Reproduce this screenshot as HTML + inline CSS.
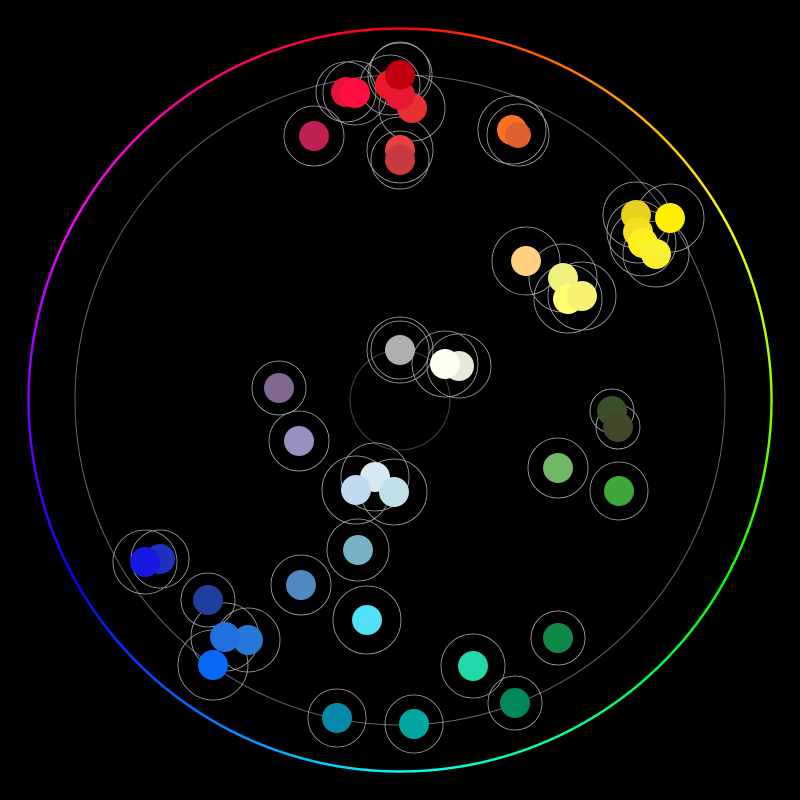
<!DOCTYPE html>
<html><head><style>
html,body{margin:0;padding:0;background:#000;width:800px;height:800px;overflow:hidden}
#ring{position:absolute;left:27px;top:27px;width:746px;height:746px;border-radius:50%;
background:conic-gradient(from 0deg,#f00,#ff0 60deg,#0f0 120deg,#0ff 180deg,#00f 240deg,#f0f 300deg,#f00 360deg);
-webkit-mask:radial-gradient(circle,transparent 370px,#000 370.5px,#000 372.5px,transparent 373px);
mask:radial-gradient(circle,transparent 370px,#000 370.5px,#000 372.5px,transparent 373px)}
svg{position:absolute;left:0;top:0}
</style></head><body>
<div id="ring"></div>
<svg width="800" height="800" viewBox="0 0 800 800">
<g fill="none" stroke="#666" stroke-width="1">
<circle cx="400" cy="400" r="325"/>
<circle cx="400" cy="400" r="50" stroke="#444"/>
</g>
<g fill="none" stroke="#aaa" stroke-width="0.8">
<circle cx="346" cy="92" r="30"/><circle cx="355" cy="93" r="32"/>
<circle cx="390" cy="85" r="30"/><circle cx="400" cy="75" r="32"/><circle cx="400" cy="72" r="30"/>
<circle cx="412" cy="108" r="33"/><circle cx="314" cy="136" r="30"/>
<circle cx="400" cy="150" r="33"/><circle cx="400" cy="160" r="29"/>
<circle cx="512" cy="130" r="34"/><circle cx="518" cy="135" r="31"/>
<circle cx="636" cy="215" r="33"/><circle cx="670" cy="218" r="34"/><circle cx="638" cy="232" r="31"/>
<circle cx="643" cy="243" r="33"/><circle cx="656" cy="254" r="33"/>
<circle cx="526" cy="261" r="34"/><circle cx="563" cy="278" r="34"/><circle cx="568" cy="299" r="34"/><circle cx="582" cy="296" r="34"/>
<circle cx="400" cy="350" r="33"/><circle cx="400" cy="350" r="29"/>
<circle cx="445" cy="364" r="33"/><circle cx="459" cy="366" r="32"/>
<circle cx="279" cy="388" r="27"/><circle cx="299" cy="441" r="30"/>
<circle cx="612" cy="411" r="22"/><circle cx="618" cy="427" r="22"/>
<circle cx="558" cy="468" r="30"/><circle cx="619" cy="491" r="29"/>
<circle cx="375" cy="477" r="34"/><circle cx="356" cy="490" r="34"/><circle cx="394" cy="492" r="33"/>
<circle cx="358" cy="550" r="31"/><circle cx="301" cy="585" r="30"/><circle cx="367" cy="620" r="34"/>
<circle cx="145" cy="562" r="32"/><circle cx="160" cy="559" r="29"/>
<circle cx="208" cy="600" r="27"/><circle cx="225" cy="637" r="34"/><circle cx="248" cy="640" r="32"/>
<circle cx="213" cy="665" r="35"/><circle cx="337" cy="718" r="29"/><circle cx="414" cy="724" r="29"/>
<circle cx="473" cy="666" r="32"/><circle cx="515" cy="703" r="27"/><circle cx="558" cy="638" r="27"/>
</g>
<g>
<circle cx="346" cy="92" r="15" fill="#e8113a"/><circle cx="355" cy="93" r="15" fill="#ff1040"/>
<circle cx="390" cy="85" r="15" fill="#f01828"/><circle cx="412" cy="108" r="15" fill="#e83030"/>
<circle cx="400" cy="95" r="15" fill="#e81830"/><circle cx="400" cy="75" r="15" fill="#c00010"/>
<circle cx="314" cy="136" r="15" fill="#c02050"/>
<circle cx="400" cy="150" r="15" fill="#e84040"/><circle cx="400" cy="160" r="15" fill="#c83840"/>
<circle cx="512" cy="130" r="15" fill="#ff7020"/><circle cx="518" cy="135" r="13" fill="#e06030"/>
<circle cx="636" cy="215" r="15" fill="#e8d020"/><circle cx="670" cy="218" r="15" fill="#ffee00"/>
<circle cx="638" cy="232" r="15" fill="#f0e020"/><circle cx="643" cy="243" r="15" fill="#ffee20"/>
<circle cx="656" cy="254" r="15" fill="#f8f030"/>
<circle cx="526" cy="261" r="15" fill="#ffd080"/><circle cx="563" cy="278" r="15" fill="#f0f080"/>
<circle cx="568" cy="299" r="15" fill="#ffff70"/><circle cx="582" cy="296" r="15" fill="#f8f070"/>
<circle cx="400" cy="350" r="15" fill="#b0b0b0"/>
<circle cx="459" cy="366" r="15" fill="#e8e8d8"/><circle cx="445" cy="364" r="15" fill="#fffff0"/>
<circle cx="279" cy="388" r="15" fill="#806890"/><circle cx="299" cy="441" r="15" fill="#9890c0"/>
<circle cx="612" cy="411" r="15" fill="#3a5028"/><circle cx="618" cy="427" r="15" fill="#404828"/>
<circle cx="558" cy="468" r="15" fill="#70b868"/><circle cx="619" cy="491" r="15" fill="#40a838"/>
<circle cx="375" cy="477" r="15" fill="#d8e8f0"/><circle cx="356" cy="490" r="15" fill="#c0d8f0"/>
<circle cx="394" cy="492" r="15" fill="#c0e0e8"/>
<circle cx="358" cy="550" r="15" fill="#78b0c8"/><circle cx="301" cy="585" r="15" fill="#5088c0"/>
<circle cx="367" cy="620" r="15" fill="#50e0f8"/>
<circle cx="160" cy="559" r="15" fill="#2030c0"/><circle cx="145" cy="562" r="15" fill="#1818e0"/>
<circle cx="208" cy="600" r="15" fill="#2040a0"/>
<circle cx="248" cy="640" r="15" fill="#2878d8"/><circle cx="225" cy="637" r="15" fill="#2070e0"/>
<circle cx="213" cy="665" r="15" fill="#0868f8"/>
<circle cx="337" cy="718" r="15" fill="#0888a8"/><circle cx="414" cy="724" r="15" fill="#00a8a0"/>
<circle cx="473" cy="666" r="15" fill="#20d8a8"/><circle cx="515" cy="703" r="15" fill="#008858"/>
<circle cx="558" cy="638" r="15" fill="#108848"/>
</g>
</svg>
</body></html>
